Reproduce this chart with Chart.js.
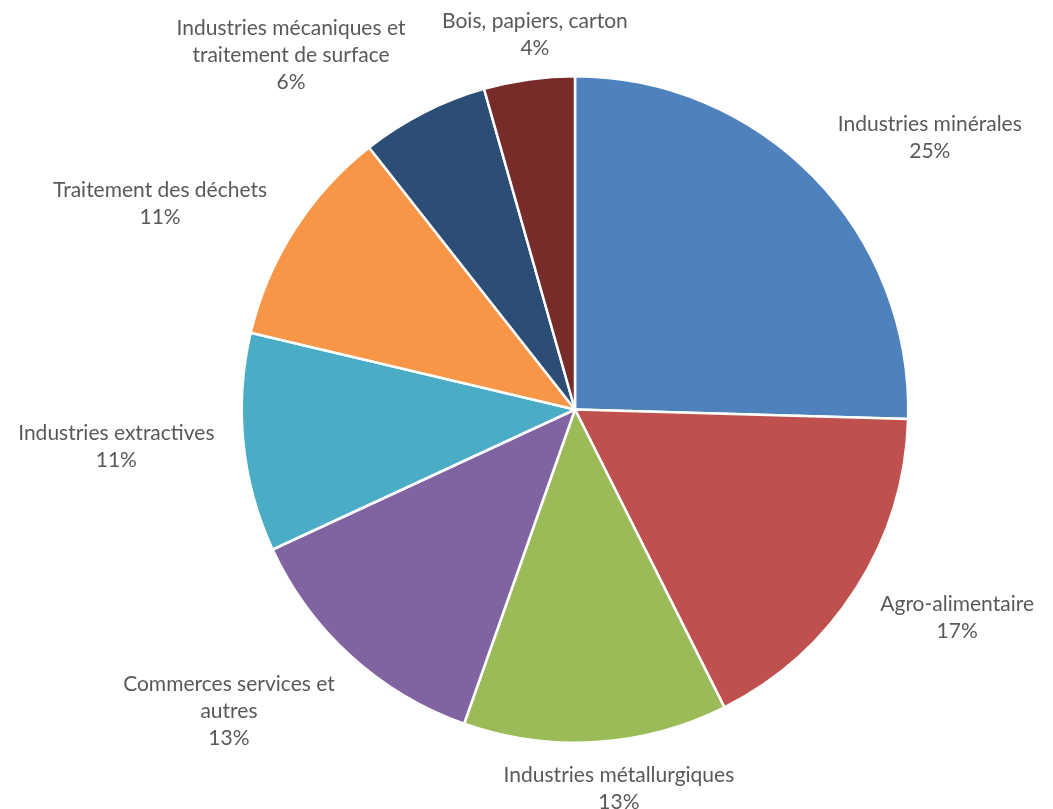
<!DOCTYPE html>
<html>
<head>
<meta charset="utf-8">
<script src="https://cdn.jsdelivr.net/npm/chart.js@4.4.0/dist/chart.umd.min.js"></script>
<style>
  html, body { margin: 0; padding: 0; background: #fff; }
  #wrap { width: 1053px; height: 809px; }
</style>
</head>
<body>
<div id="wrap"><canvas id="camembert"></canvas></div>
<script>
// Donnees (parts en %)
var secteurs = [
  ["Industries minérales"],
  ["Agro-alimentaire"],
  ["Industries métallurgiques"],
  ["Commerces services et", "autres"],
  ["Industries extractives"],
  ["Traitement des déchets"],
  ["Industries mécaniques et", "traitement de surface"],
  ["Bois, papiers, carton"]
];
var parts = [25.45, 17.15, 12.8, 12.7, 10.6, 10.7, 6.2, 4.4];
var couleurs = ["#4F81BD", "#C0504D", "#9BBB59", "#8064A2", "#4BACC6", "#F79646", "#2C4D75", "#772C2A"];

// placement des etiquettes : angle (degres depuis le haut) et distance / rayon
var angleEtiq = [52.5, 118.6, 173.4, 228.9, 265.3, 296.4, 321.3, 353.9];
var distEtiq = [1.342, 1.306, 1.147, 1.378, 1.381, 1.390, 1.363, 1.132];

// Plugin pour dessiner les etiquettes a l'exterieur
var etiquettes = {
  id: "etiquettes",
  afterDraw: function (chart) {
    var ctx = chart.ctx;
    var meta = chart.getDatasetMeta(0);
    var total = parts.reduce(function (a, b) { return a + b; }, 0);
    ctx.save();
    ctx.font = "21px Lato, 'Open Sans', sans-serif";
    ctx.fillStyle = "#595959";
    ctx.textAlign = "center";
    ctx.textBaseline = "middle";
    for (let i = 0; i < meta.data.length; i++) {
      let arc = meta.data[i];
      let a = angleEtiq[i] * Math.PI / 180;
      let d = arc.outerRadius * distEtiq[i];
      let cx = arc.x + d * Math.sin(a);
      let cy = arc.y - d * Math.cos(a);
      let lignes = secteurs[i].concat([Math.round(parts[i] / total * 100) + "%"]);
      let h = 27;
      let y0 = cy - (lignes.length - 1) * h / 2;
      for (let j = 0; j < lignes.length; j++) {
        ctx.fillText(lignes[j], cx, y0 + j * h);
      }
    }
    ctx.restore();
  }
};

var ctx = document.getElementById("camembert").getContext("2d");
var graphique = new Chart(ctx, {
  type: "pie",
  data: {
    labels: secteurs,
    datasets: [{
      data: parts,
      backgroundColor: couleurs,
      borderColor: "#ffffff",
      borderWidth: 2.5
    }]
  },
  options: {
    responsive: true,
    maintainAspectRatio: false,
    animation: false,
    layout: { padding: { left: 240, right: 143, top: 75, bottom: 65 } },
    plugins: {
      legend: { display: false },
      tooltip: { enabled: false }
    }
  },
  plugins: [etiquettes]
});
</script>
</body>
</html>
